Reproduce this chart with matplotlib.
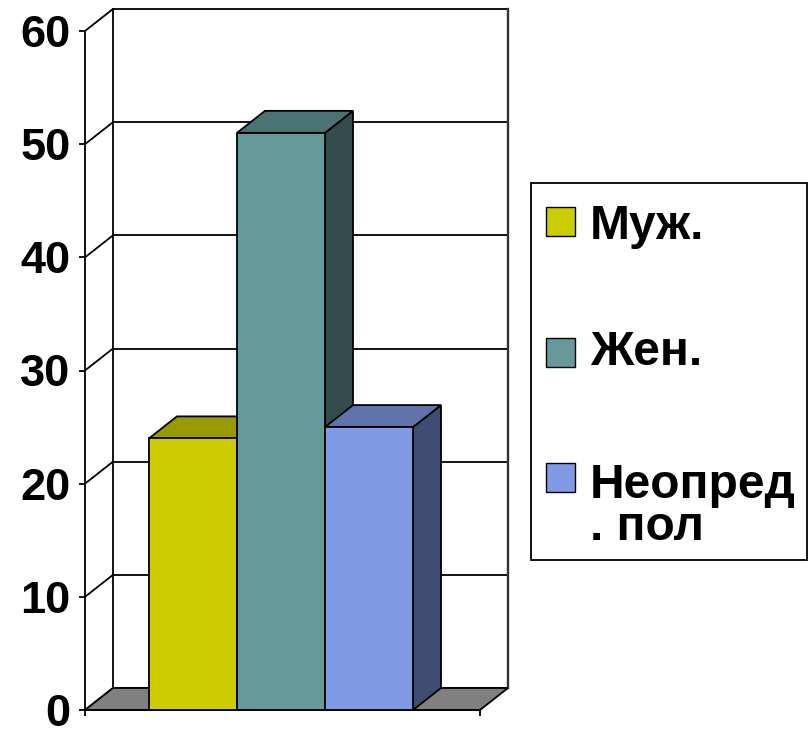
import matplotlib
matplotlib.use("Agg")
import matplotlib.pyplot as plt
from matplotlib.patches import Polygon, Rectangle

plt.rcParams['font.family'] = ['Liberation Sans', 'DejaVu Sans']
plt.rcParams['font.weight'] = 'bold'

# data
labels = ["Муж.", "Жен.", "Неопред\n. пол"]
values = [24, 51, 25]
front_colors = ["#CCCC00", "#669999", "#809AE6"]
top_colors = ["#999900", "#4C7373", "#6073AC"]
side_colors = ["#666600", "#334C4C", "#404D73"]
yticks = [0, 10, 20, 30, 40, 50, 60]

# fake 3d geometry (category units / value units)
XL, XR = -1.227, 3.261
DX, DY = 0.318, 1.944
YMAX = 60
LW = 1.3

fig = plt.figure(figsize=(8.11, 7.31), dpi=100)
ax = fig.add_axes([85 / 811, 21 / 731, 395 / 811, 679 / 731])
ax.set_xlim(XL, XR)
ax.set_ylim(0, YMAX)
ax.patch.set_visible(False)

for side in ["top", "right"]:
    ax.spines[side].set_visible(False)
ax.spines["left"].set_linewidth(LW)
ax.spines["bottom"].set_linewidth(LW)
ax.spines["left"].set_zorder(1)

ax.set_yticks(yticks)
ax.set_yticklabels([str(t) for t in yticks], fontsize=32.5, fontweight='bold')
ax.tick_params(axis='y', direction='out', length=4.3, width=LW, pad=6)
ax.set_xticks([XL, XR])
ax.set_xticklabels([])
ax.tick_params(axis='x', direction='out', length=4.3, width=LW)

# back wall + side wall grid
for t in yticks:
    ax.plot([XL + DX, XR + DX], [t + DY, t + DY], color='black', lw=LW, clip_on=False, zorder=1)
    ax.plot([XL, XL + DX], [t, t + DY], color='black', lw=LW, clip_on=False, zorder=1)
ax.plot([XL + DX, XL + DX], [DY, YMAX + DY], color='black', lw=LW, clip_on=False, zorder=1)
ax.plot([XR + DX, XR + DX], [DY, YMAX + DY], color='#333333', lw=LW * 1.3, clip_on=False, zorder=1)

# floor
ax.add_patch(Polygon([(XL, 0), (XR, 0), (XR + DX, DY), (XL + DX, DY)], closed=True,
                     facecolor='#808080', edgecolor='black', lw=LW, clip_on=False, zorder=2))

# bars
for i, v in enumerate(values):
    l, r = i - 0.5, i + 0.5
    ax.add_patch(Polygon([(r, 0), (r + DX, DY), (r + DX, v + DY), (r, v)], closed=True,
                         facecolor=side_colors[i], edgecolor='black', lw=LW, clip_on=False, zorder=3))
    ax.add_patch(Polygon([(l, v), (r, v), (r + DX, v + DY), (l + DX, v + DY)], closed=True,
                         facecolor=top_colors[i], edgecolor='black', lw=LW, clip_on=False, zorder=3))
    ax.add_patch(Rectangle((l, 0), 1, v, facecolor=front_colors[i], edgecolor='black',
                           lw=LW, clip_on=False, zorder=3))

# legend box (pixel coordinates on an overlay axes)
lax = fig.add_axes([0, 0, 1, 1], zorder=-1)
lax.set_xlim(0, 811)
lax.set_ylim(731, 0)
lax.axis('off')
lax.add_patch(Rectangle((531, 183), 276, 377, facecolor='white', edgecolor='black', lw=LW))
square_tops = [207, 338, 463]
baselines = [239, 365, 498]
for i, lab in enumerate(labels):
    lax.add_patch(Rectangle((546, square_tops[i]), 29, 29, facecolor=front_colors[i],
                            edgecolor='black', lw=1.0))
    lines = lab.split("\n")
    for j, line in enumerate(lines):
        lax.text(590, baselines[i] + j * 42, line, fontsize=34.5, fontweight='bold',
                 ha='left', va='baseline')

fig.savefig("out.png", dpi=100)
